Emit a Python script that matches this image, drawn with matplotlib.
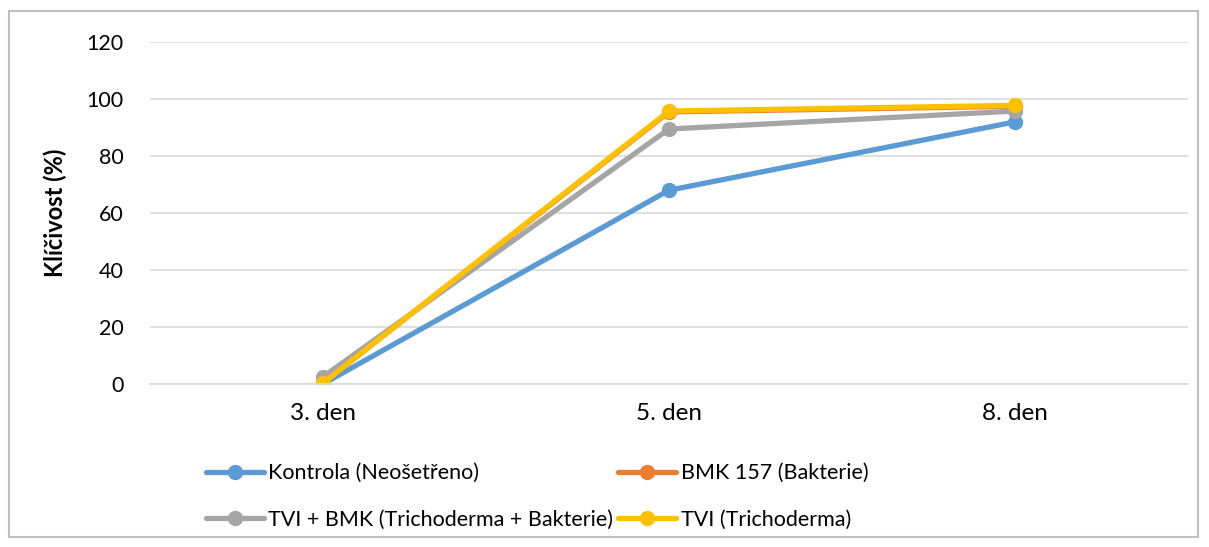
import matplotlib.pyplot as plt
from matplotlib.patches import Rectangle
import numpy as np

plt.rcParams['font.family'] = ['Lato', 'DejaVu Sans']

days = ['3. den', '5. den', '8. den']
kontrola = [0.0, 68.0, 92.0]
bmk = [0.3, 95.5, 97.5]
tvi_bmk = [2.5, 89.5, 95.8]
tvi = [0.3, 95.8, 97.8]

labels = ['Kontrola (Neošetřeno)', 'BMK 157 (Bakterie)',
          'TVI + BMK (Trichoderma + Bakterie)', 'TVI (Trichoderma)']
colors = ['#5b9bd5', '#ed7d31', '#a5a5a5', '#ffc000']
series = [kontrola, bmk, tvi_bmk, tvi]

fig = plt.figure(figsize=(12.09, 5.47), dpi=100)
ax = fig.add_axes([0.124, 0.298, 0.8586, 0.625])

x = np.arange(len(days))
handles = []
for vals, lab, col in zip(series, labels, colors):
    h, = ax.plot(x, vals, color=col, lw=3.8, marker='o', markersize=10,
                 label=lab, solid_capstyle='round')
    handles.append(h)

ax.set_xlim(-0.5, 2.5)
ax.set_ylim(0, 120)
ax.set_yticks(np.arange(0, 121, 20))
ax.set_xticks(x)
ax.set_xticklabels(days)
ax.grid(axis='y', color='#d9d9d9', lw=1.2)
ax.set_axisbelow(True)
for s in ['top', 'right', 'left']:
    ax.spines[s].set_visible(False)
ax.spines['bottom'].set_color('#d9d9d9')
ax.spines['bottom'].set_linewidth(1.2)
ax.tick_params(axis='both', length=0, colors='black')
ax.tick_params(axis='y', labelsize=15.5, pad=19)
ax.tick_params(axis='x', labelsize=17.5, pad=14)
ax.set_ylabel('Klíčivost (%)', fontsize=17, fontweight='bold', labelpad=14)

# legend in Excel order: row1 = Kontrola, BMK; row2 = TVI+BMK, TVI
order = [0, 2, 1, 3]
fig.legend([handles[i] for i in order], [labels[i] for i in order],
           ncol=2, loc='upper left', bbox_to_anchor=(0.17, 0.153),
           frameon=False, fontsize=15.5, handlelength=2.7, handletextpad=0.2,
           columnspacing=0.25, labelspacing=1.22, borderpad=0, borderaxespad=0)

fig.add_artist(Rectangle((0.0075, 0.018), 0.983, 0.962, transform=fig.transFigure,
                         fill=False, edgecolor='#bfbfbf', lw=1.5))

plt.savefig('out.png', dpi=100, facecolor='white')
plt.close()
